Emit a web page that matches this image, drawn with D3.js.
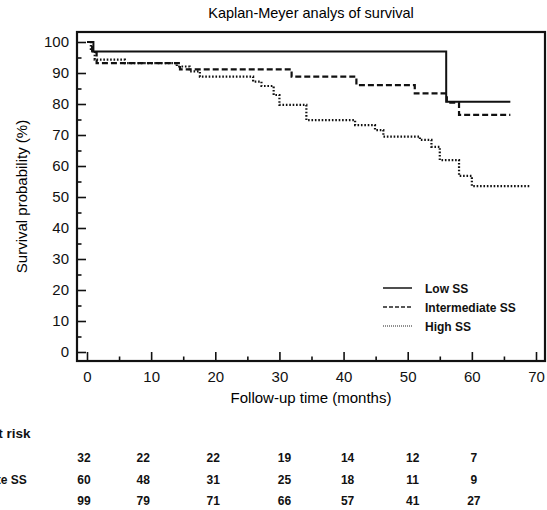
<!DOCTYPE html>
<html>
<head>
<meta charset="utf-8">
<script src="https://cdn.jsdelivr.net/npm/d3@7"></script>
<style>
  body { margin: 0; background: #fff; }
</style>
</head>
<body>
<div id="chart"></div>
<script>
const seriesNames = ["Low SS", "Intermediate SS", "High SS"];

const lowTimes = [0, 1, 56, 66];
const lowSurv = [100, 96.9, 80.7, 80.7];

const interTimes = [0, 0.8, 1.5, 14.5, 31.9, 42, 51.1, 56.1, 58, 66];
const interSurv = [100, 96.7, 93.2, 91.2, 88.8, 86.1, 83.4, 80.4, 76.5, 76.5];

const highTimes = [0, 0.6, 1.2, 5.9, 14, 16, 17.6, 25.9, 27.2, 29.1, 30, 34.2, 41.8, 44.9, 46.2, 51.9, 53.7, 55, 58, 60, 69];
const highSurv = [100, 97.0, 94.3, 93.2, 92.1, 90.5, 88.8, 87.2, 85.8, 82.9, 79.7, 74.8, 73.2, 71.6, 69.5, 68.4, 66.2, 61.9, 56.8, 53.5, 53.5];

const xTicks = [0, 10, 20, 30, 40, 50, 60, 70];
const yTicks = [0, 10, 20, 30, 40, 50, 60, 70, 80, 90, 100];

const riskTimes = [0, 10, 20, 30, 40, 50, 60];
const riskLow = [32, 22, 22, 19, 14, 12, 7];
const riskInter = [60, 48, 31, 25, 18, 11, 9];
const riskHigh = [99, 79, 71, 66, 57, 41, 27];

class KaplanMeierChart {
    constructor(id) {
      this.id = id;
      this.width = 547;
      this.height = 510;
      this.frame = {left: 77, right: 545, top: 32, bottom: 361};
      this.font = "'Liberation Sans', Arial, sans-serif";
      this.x = d3.scaleLinear().domain([0, 70]).range([87, 536]);
      this.y = d3.scaleLinear().domain([0, 100]).range([352, 42]);
      this.dashes = ["none", "6,3", "1.6,1.8"];
    }
    drawSVG() {
      this.svg = d3.select(this.id)
        .append("svg")
        .attr("width", this.width)
        .attr("height", this.height)
        .style("font-family", this.font);

      this.drawAxes();
      this.drawCurves();
      this.drawLegend();
      this.drawRiskTable();
    }
    drawAxes() {
      const f = this.frame;
      const svg = this.svg;

      svg.append("text")
        .attr("x", (f.left + f.right) / 2)
        .attr("y", 18)
        .attr("text-anchor", "middle")
        .style("font-size", "14.5px")
        .text("Kaplan-Meyer analys of survival");

      // minor ticks every 5
      svg.append("g")
        .attr("transform", "translate(" + f.left + ",0)")
        .call(d3.axisLeft(this.y).tickValues(d3.range(5, 100, 10)).tickSize(-4.5).tickFormat(""))
        .call(g => g.select(".domain").remove());
      svg.append("g")
        .attr("transform", "translate(0," + f.bottom + ")")
        .call(d3.axisBottom(this.x).tickValues(d3.range(5, 70, 10)).tickSize(-4.5).tickFormat(""))
        .call(g => g.select(".domain").remove());

      let yAxis = svg.append("g")
        .attr("transform", "translate(" + f.left + ",0)")
        .call(d3.axisLeft(this.y).tickValues(yTicks).tickSize(-9).tickPadding(8));
      yAxis.select(".domain").remove();

      let xAxis = svg.append("g")
        .attr("transform", "translate(0," + f.bottom + ")")
        .call(d3.axisBottom(this.x).tickValues(xTicks).tickSize(-9).tickPadding(10));
      xAxis.select(".domain").remove();

      svg.selectAll(".tick line").style("stroke", "#111").style("stroke-width", "1.6px");
      svg.selectAll(".tick text")
        .style("font-family", this.font)
        .style("font-size", "15px")
        .style("fill", "#111");

      svg.append("rect")
        .attr("x", f.left)
        .attr("y", f.top)
        .attr("width", f.right - f.left)
        .attr("height", f.bottom - f.top)
        .style("fill", "none")
        .style("stroke", "#111")
        .style("stroke-width", "2.2px");

      svg.append("text")
        .attr("x", (f.left + f.right) / 2)
        .attr("y", 403)
        .attr("text-anchor", "middle")
        .style("font-size", "15px")
        .text("Follow-up time (months)");

      svg.append("text")
        .attr("transform", "translate(27," + ((f.top + f.bottom) / 2) + ") rotate(-90)")
        .attr("text-anchor", "middle")
        .style("font-size", "15px")
        .text("Survival probability (%)");
    }
    drawCurves() {
      const x = this.x, y = this.y;
      const series = [
        lowTimes.map((t, i) => [t, lowSurv[i]]),
        interTimes.map((t, i) => [t, interSurv[i]]),
        highTimes.map((t, i) => [t, highSurv[i]])
      ];
      const line = d3.line()
        .x(d => x(d[0]))
        .y(d => y(d[1]))
        .curve(d3.curveStepAfter);

      this.svg.append("g")
        .selectAll("path")
        .data(series)
        .enter()
        .append("path")
        .attr("d", line)
        .style("fill", "none")
        .style("stroke", "#111")
        .style("stroke-width", (d, i) => i == 0 ? "2px" : "2.2px")
        .style("stroke-dasharray", (d, i) => this.dashes[i]);
    }
    drawLegend() {
      let legend = this.svg.append("g")
        .attr("transform", "translate(383,288)");

      let items = legend.selectAll("g")
        .data(seriesNames)
        .enter()
        .append("g")
        .attr("transform", (d, i) => "translate(0," + i * 19 + ")");

      items.append("line")
        .attr("x1", 0)
        .attr("x2", 29)
        .style("stroke", "#222")
        .style("stroke-width", (d, i) => i == 2 ? "1.2px" : "1.6px")
        .style("stroke-dasharray", (d, i) => i == 0 ? "none" : (i == 1 ? "4,2" : "1,1"));

      items.append("text")
        .attr("x", 42)
        .attr("y", 4.5)
        .style("font-size", "12px")
        .style("font-weight", "bold")
        .style("fill", "#111")
        .text(d => d);
    }
    drawRiskTable() {
      const x = this.x;
      const nudge = [-3, -8, -2, 5, 4, 5, 2];
      const rows = [riskLow, riskInter, riskHigh];
      const rowY = [462, 484, 505];
      // row labels start left of the page edge, as in the source figure
      const labelX = -64;
      let table = this.svg.append("g").style("font-weight", "bold").style("fill", "#111");

      table.append("text")
        .attr("x", labelX)
        .attr("y", 438)
        .style("font-size", "13.5px")
        .text("Number at risk");

      rows.forEach((row, r) => {
        table.append("text")
          .attr("x", labelX)
          .attr("y", rowY[r])
          .style("font-size", "12px")
          .text(seriesNames[r]);

        table.selectAll(".n" + r)
          .data(row)
          .enter()
          .append("text")
          .attr("class", "n" + r)
          .attr("x", (d, i) => x(riskTimes[i]) + nudge[i])
          .attr("y", rowY[r])
          .attr("text-anchor", "middle")
          .style("font-size", "12px")
          .text(d => d);
      });
    }
};

new KaplanMeierChart("#chart").drawSVG();
</script>
</body>
</html>
